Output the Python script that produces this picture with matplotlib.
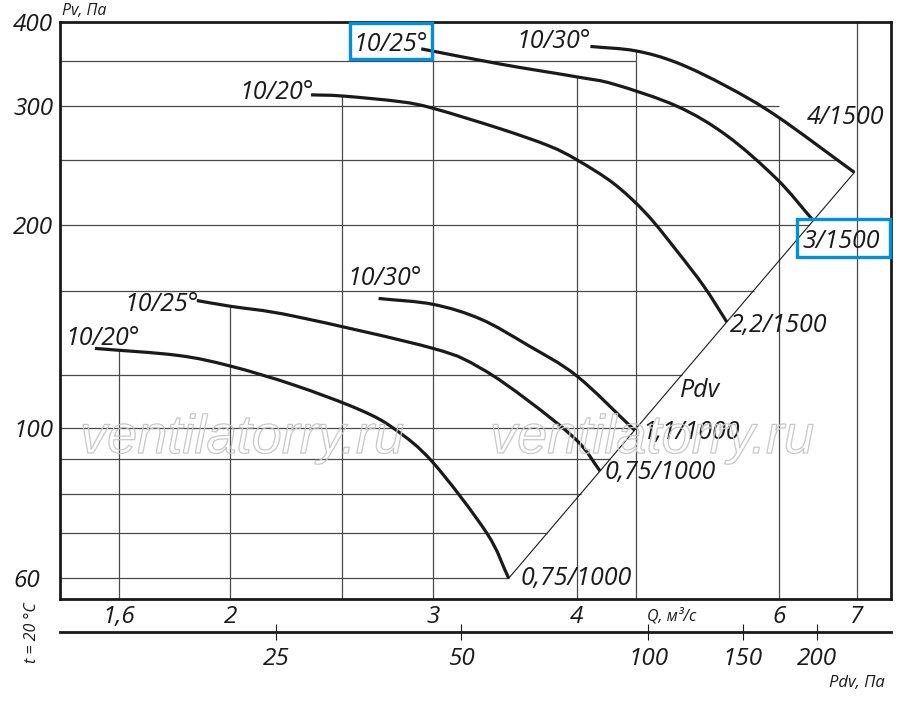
import numpy as np
import matplotlib
matplotlib.use('Agg')
import matplotlib.pyplot as plt
import matplotlib.patheffects as pe
from matplotlib.ticker import NullLocator, FixedLocator, FixedFormatter
from matplotlib.path import Path
from matplotlib.patches import PathPatch, Rectangle
from matplotlib.transforms import IdentityTransform

plt.rcParams['font.family'] = ['Open Sans', 'DejaVu Sans']
plt.rcParams['font.style'] = 'italic'

# ---------------- data (Q in m3/s, Pv in Pa) ----------------
q_up_30 = [4.11, 4.5, 4.89, 5.40, 5.97, 6.97]
p_up_30 = [368, 362.5, 348, 321, 290, 239.5]
q_up_25 = [2.93, 3.43, 4.0, 4.31, 4.89, 5.40, 5.97, 6.42]
p_up_25 = [365, 346.6, 331.7, 323.5, 300, 271.5, 234, 203.2]
q_up_20 = [2.35, 2.5, 2.81, 3.0, 3.43, 3.78, 4.0, 4.31, 4.60, 4.89, 5.16, 5.40]
p_up_20 = [312, 310.8, 304.8, 298, 278, 262.3, 250, 230.3, 207.7, 182.9, 162.2, 143.8]
q_lo_30 = [2.69, 3.0, 3.30, 3.63, 4.0, 4.49]
p_lo_30 = [155.8, 152.7, 145.2, 132.7, 119.6, 99.4]
q_lo_25 = [1.87, 2.0, 2.27, 3.0, 3.30, 3.63, 4.0, 4.19]
p_lo_25 = [154.7, 151.7, 146.7, 131.4, 122.8, 109.9, 96.0, 86.5]
q_lo_20 = [1.525, 1.80, 2.0, 2.27, 2.59, 2.78, 3.0, 3.34, 3.49]
p_lo_20 = [131.4, 128.3, 123.7, 116.0, 106.6, 99.7, 89.0, 70.0, 60.0]

start_labels = ['10/30°', '10/25°', '10/20°', '10/30°', '10/25°', '10/20°']
end_labels = ['4/1500', '3/1500', '2,2/1500', '1,1/1000', '0,75/1000', '0,75/1000']

q_ticks = [1.6, 2, 3, 4, 6, 7]
q_tick_labels = ['1,6', '2', '3', '4', '6', '7']
q_grid = [1.6, 2, 2.5, 3, 4, 4.5, 6, 7]
p_ticks = [60, 100, 200, 300, 400]
p_tick_labels = ['60', '100', '200', '300', '400']
p_grid = [60, 70, 80, 90, 100, 120, 160, 200, 250, 300, 350]
hgrid_stop = {350: 4.5, 300: 6.0}

pdv_ticks = ['25', '50', '100', '150', '200']
pdv_tick_q = [2.193, 3.175, 4.613, 5.576, 6.462]

# ---------------- layout / style ----------------
W, H = 900, 712
fig = plt.figure(figsize=(W / 100, H / 100), dpi=100)
L, R, T, B = 60, 891, 22, 599
ax = fig.add_axes([L / W, 1 - B / H, (R - L) / W, (B - T) / H])
XLIM = (1.422, 7.50)
YLIM = (55.9, 400)
ax.set_xscale('log')
ax.set_yscale('log')
ax.set_xlim(*XLIM)
ax.set_ylim(*YLIM)

ink = '#1a1a1a'
grid_c = '#4a4a4a'
blue = '#0090df'

curves = [(q_up_30, p_up_30), (q_up_25, p_up_25), (q_up_20, p_up_20),
          (q_lo_30, p_lo_30), (q_lo_25, p_lo_25), (q_lo_20, p_lo_20)]


def top_at(qv):
    vals = [np.exp(np.interp(np.log(qv), np.log(q), np.log(p)))
            for q, p in curves if q[0] < qv < q[-1]]
    return max(vals) if vals else YLIM[1]


ends = sorted([(q[-1], p[-1]) for q, p in curves])
eq = np.array([e[0] for e in ends])
ep = np.array([e[1] for e in ends])


def right_at(pv):
    if pv in hgrid_stop:
        return hgrid_stop[pv]
    vals = []
    for q, p in curves:
        if min(p) <= pv <= max(p):
            vals.append(np.exp(np.interp(np.log(pv), np.log(p[::-1]), np.log(q[::-1]))))
    if ep.min() <= pv <= ep.max():
        vals.append(np.exp(np.interp(np.log(pv), np.log(ep), np.log(eq))))
    return max(vals) if vals else XLIM[1]


for qv in q_grid:
    ax.vlines(qv, YLIM[0], top_at(qv), color=grid_c, lw=0.9, zorder=1)
for pv in p_grid:
    ax.hlines(pv, XLIM[0], right_at(pv), color=grid_c, lw=0.9, zorder=1)

# watermark
for xw in (80, 490):
    fig.text(xw / W, 1 - 453 / H, 'ventilatorry.ru', fontsize=39,
             family=['Liberation Sans', 'DejaVu Sans'], style='italic',
             color='none', ha='left', va='baseline', zorder=1.5,
             path_effects=[pe.Stroke(linewidth=0.9, foreground='#c8c8c8')])

# Pdv diagonal through curve ends
ax.plot(eq, ep, color=ink, lw=0.8, zorder=2)


def smooth_path(q, p):
    # Catmull-Rom through the read points, in log space, drawn as Bezier
    P = np.column_stack([np.log(q), np.log(p)])
    ext = np.vstack([2 * P[0] - P[1], P, 2 * P[-1] - P[-2]])
    verts = [P[0]]
    codes = [Path.MOVETO]
    for i in range(len(P) - 1):
        p0, p1, p2, p3 = ext[i], ext[i + 1], ext[i + 2], ext[i + 3]
        verts += [p1 + (p2 - p0) / 6, p2 - (p3 - p1) / 6, p2]
        codes += [Path.CURVE4] * 3
    return Path(np.exp(np.array(verts)), codes)


for q, p in curves:
    ax.add_patch(PathPatch(smooth_path(q, p), fc='none', ec=ink, lw=2.3,
                           capstyle='butt', joinstyle='round', zorder=3))

fs_lab = 18
start_off = [(0, -2, 'right'), (7, -2, 'right'), (3, -4, 'right'),
             (-31, 13, 'left'), (2, -10, 'right'), (-30, 3, 'left')]
end_off = [(-48, 48, 'left'), (-11, -27, 'left'), (3, -10, 'left'),
           (8, -9, 'left'), (5, -8, 'left'), (12, -7, 'left')]
boxes = []
for i, (q, p) in enumerate(curves):
    dx, dy, ha = start_off[i]
    a = ax.annotate(start_labels[i], xy=(q[0], p[0]), xytext=(dx, dy), textcoords='offset pixels',
                    ha=ha, va='baseline', fontsize=fs_lab, color=ink, zorder=5, annotation_clip=False)
    if i == 1:
        boxes.append((a, (q[0], p[0]), dy, (3.5, 3.5, 27.5, 8.5)))
    dx, dy, ha = end_off[i]
    a = ax.annotate(end_labels[i], xy=(q[-1], p[-1]), xytext=(dx, dy), textcoords='offset pixels',
                    ha=ha, va='baseline', fontsize=fs_lab, color=ink, zorder=5, annotation_clip=False)
    if i == 1:
        boxes.append((a, (q[-1], p[-1]), dy, (5.0, 10.5, 28.4, 9.5)))

ax.annotate('Pdv', xy=(q_lo_30[-1], p_lo_30[-1]), xytext=(45, 33), textcoords='offset pixels',
            ha='left', va='baseline', fontsize=fs_lab, color=ink, zorder=5)

# axes ticks
ax.xaxis.set_minor_locator(NullLocator())
ax.yaxis.set_minor_locator(NullLocator())
ax.xaxis.set_major_locator(FixedLocator(q_ticks))
ax.xaxis.set_major_formatter(FixedFormatter(q_tick_labels))
ax.yaxis.set_major_locator(FixedLocator(p_ticks))
ax.yaxis.set_major_formatter(FixedFormatter(p_tick_labels))
ax.tick_params(axis='x', length=0, pad=4.5, labelsize=17.5, labelcolor=ink)
ax.tick_params(axis='y', length=0, pad=33.8, labelsize=17.5, labelcolor=ink)
for lbl in ax.get_yticklabels():
    lbl.set_horizontalalignment('left')
for s in ax.spines.values():
    s.set_linewidth(2.0)
    s.set_color(ink)
    s.set_zorder(6)

ax.annotate('Pv, Па', xy=(0, 1), xycoords='axes fraction', xytext=(2, 11), textcoords='offset pixels',
            ha='left', va='center', fontsize=11.5, color=ink)
ax.annotate('Q, м³/с', xy=((647 - L) / (R - L), 0), xycoords='axes fraction', xytext=(0, -17),
            textcoords='offset pixels', ha='left', va='center', fontsize=11.5, color=ink)

# Pdv scale
ax2 = fig.add_axes([L / W, 1 - 632 / H, (R - L) / W, 0.0001])
ax2.set_xscale('log')
ax2.set_xlim(*XLIM)
ax2.patch.set_visible(False)
for k in ('top', 'left', 'right'):
    ax2.spines[k].set_visible(False)
ax2.spines['bottom'].set_linewidth(2.0)
ax2.spines['bottom'].set_color(ink)
ax2.yaxis.set_visible(False)
ax2.xaxis.set_minor_locator(NullLocator())
ax2.xaxis.set_major_locator(FixedLocator(pdv_tick_q))
ax2.xaxis.set_major_formatter(FixedFormatter(pdv_ticks))
ax2.tick_params(axis='x', direction='inout', length=11.5, width=0.8, color=ink, pad=5,
                labelsize=17.5, labelcolor=ink)
ax2.annotate('Pdv, Па', xy=(1, 0), xycoords='axes fraction', xytext=(-6, -51), textcoords='offset pixels',
             ha='right', va='center', fontsize=12, color=ink)

fig.text(32 / W, 1 - 633 / H, 't = 20 °C', rotation=90, ha='center', va='center',
         fontsize=11.5, color=ink)

# blue highlight frames around two labels
fig.canvas.draw()
rend = fig.canvas.get_renderer()
for a, xy, dy, (ml, mr, mt, mb) in boxes:
    bb = a.get_window_extent(rend)
    base = ax.transData.transform(xy)[1] + dy
    rect = Rectangle((bb.x0 - ml, base - mb), bb.width + ml + mr, mt + mb,
                     fill=False, ec=blue, lw=2.4, transform=IdentityTransform(), zorder=7)
    fig.add_artist(rect)

fig.savefig('out.png', dpi=100)
